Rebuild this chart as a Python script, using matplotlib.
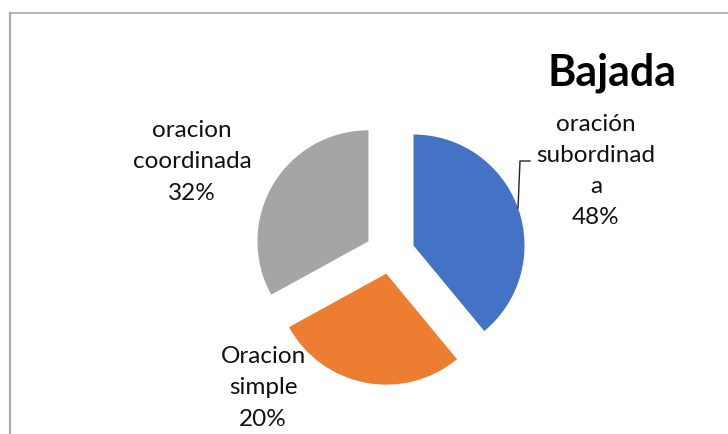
import matplotlib
matplotlib.use('Agg')
import matplotlib.pyplot as plt
from matplotlib.lines import Line2D

# data
categories = ['oración\nsubordinad\na', 'Oracion\nsimple', 'oracion\ncoordinada']
values = [39, 28, 33]            # wedge sizes as drawn
pct_labels = ['48%', '20%', '32%']  # percentages as printed on the chart
colors = ['#4472C4', '#ED7D31', '#A5A5A5']
title = 'Bajada'

plt.rcParams['font.family'] = ['Lato', 'DejaVu Sans']

W, H = 728, 434
fig = plt.figure(figsize=(W / 100, H / 100), dpi=100)
ax = fig.add_axes([0, 0, 1, 1])

# pie drawn in pixel-like units (y measured up from the bottom)
# note: explode is in data units here, not a fraction of the radius
ax.pie(values, colors=colors, startangle=90, counterclock=False,
       center=(390, H - 254), radius=111, explode=[25, 20, 25],
       wedgeprops=dict(linewidth=0))
ax.set_xlim(0, W)
ax.set_ylim(0, H)
ax.set_aspect('auto')
ax.axis('off')

# data labels
label_pos = [(596, H - 171), (263, H - 388), (192, H - 162)]
for cat, pct, (x, y) in zip(categories, pct_labels, label_pos):
    ax.text(x, y, cat + '\n' + pct, ha='center', va='center',
            fontsize=17.5, linespacing=1.6, color='#111111')

# leader line for the blue slice
ax.plot([518, 520, 530], [H - 208, H - 161, H - 161], color='#222222', lw=1)

ax.text(612, H - 73, title, ha='center', va='center', fontsize=31,
        fontweight='bold', color='#000000')

# chart area border (left and top edges visible)
fig.add_artist(Line2D([10 / W, 10 / W], [0, 1 - 13 / H], color='#ababab', lw=1.6))
fig.add_artist(Line2D([10 / W, 1], [1 - 13 / H, 1 - 13 / H], color='#ababab', lw=1.2))

fig.savefig('out.png', dpi=100)
